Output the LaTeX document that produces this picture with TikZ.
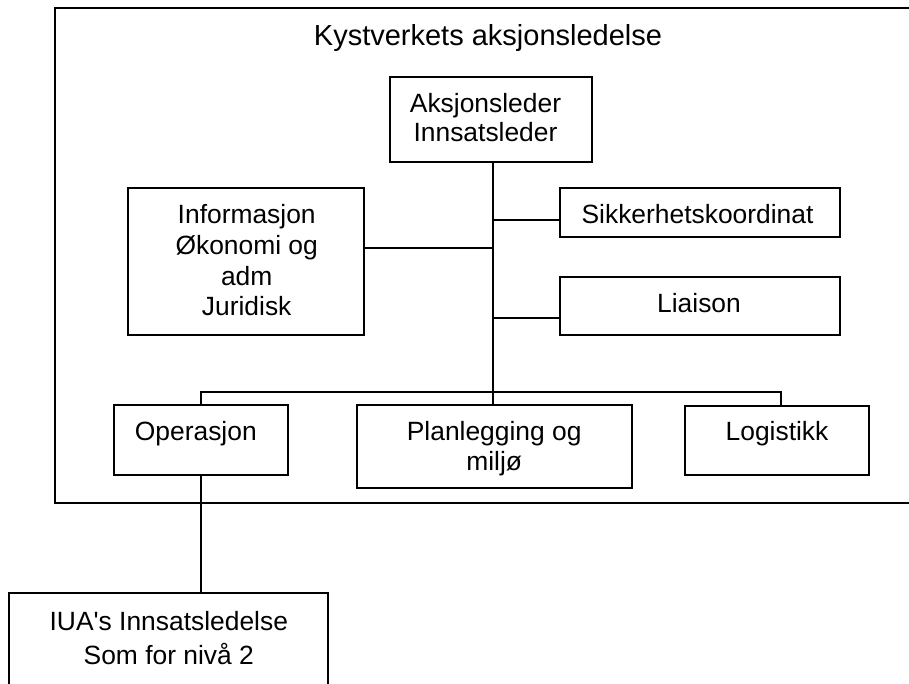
\documentclass[tikz,border=0pt]{standalone}
\usepackage{fontspec}
\setmainfont{Liberation Sans}[Ligatures=TeXOff]
\begin{document}
\begin{tikzpicture}[x=1pt,y=-1pt,
  box/.style={draw, line width=2pt, rectangle, inner sep=0pt, outer sep=0pt},
  lbl/.style={anchor=base, inner sep=0pt, align=center, font=\fontsize{26.4}{30}\selectfont},
  conn/.style={line width=2pt}]
\useasboundingbox (0,0) rectangle (909,684);
\clip (0,0) rectangle (909,684);
% boxes
\node[box, minimum width=875.3pt, minimum height=494.7pt] (frame) at (492.35,255.35) {};
\node[box, minimum width=201.7pt, minimum height=85.6pt] (aks) at (491,119.5) {};
\node[box, minimum width=280pt, minimum height=49pt] (sik) at (700,212.8) {};
\node[box, minimum width=280pt, minimum height=57.7pt] (lia) at (700,306.2) {};
\node[box, minimum width=235.7pt, minimum height=147pt] (inf) at (246.15,261.8) {};
\node[box, minimum width=173.7pt, minimum height=70pt] (ope) at (200.85,440) {};
\node[box, minimum width=275pt, minimum height=83.3pt] (pla) at (494.2,446.65) {};
\node[box, minimum width=184.3pt, minimum height=69.5pt] (log) at (777.15,440.25) {};
\node[box, minimum width=319pt, minimum height=107.3pt] (iua) at (168.8,646.35) {};
% texts (base anchor = baseline of last line)
\node[lbl, font=\fontsize{29}{30}\selectfont] (title) at (488,46) {Kystverkets aksjonsledelse};
\node[lbl] (aksT) at (485.5,141.7) {Aksjonsleder\\[-1pt]Innsatsleder};
\node[lbl] (sikT) at (697.5,223.3) {Sikkerhetskoordinat};
\node[lbl] (liaT) at (699,312.7) {Liaison};
\node[lbl] (infT) at (246.7,315) {Informasjon\\[1.5pt]Økonomi og\\adm\\Juridisk};
\node[lbl] (opeT) at (195.8,440.7) {Operasjon};
\node[lbl] (plaT) at (494.2,470) {Planlegging og\\[-0.7pt]miljø};
\node[lbl] (logT) at (777,440.7) {Logistikk};
\node[lbl] (iuaT) at (168.8,664) {IUA's Innsatsledelse\\[4pt]Som for nivå 2};
% connectors
\draw[conn] ([xshift=2.3pt]aks.south) coordinate (t0) -- (t0 |- pla.north);
\draw[conn] ([yshift=-7.2pt]sik.west) coordinate (s1) -- (s1 -| t0);
\draw[conn] ([yshift=-12.1pt]lia.west) coordinate (l1) -- (l1 -| t0);
\draw[conn] ([yshift=14.1pt]inf.east) coordinate (i1) -- (i1 -| t0);
\draw[conn] (ope.north) -- ([yshift=12.7pt]ope.north) -| ([xshift=3.85pt]log.north);
\draw[conn] (ope.south) -- (ope.south |- iua.north);
\end{tikzpicture}
\end{document}
